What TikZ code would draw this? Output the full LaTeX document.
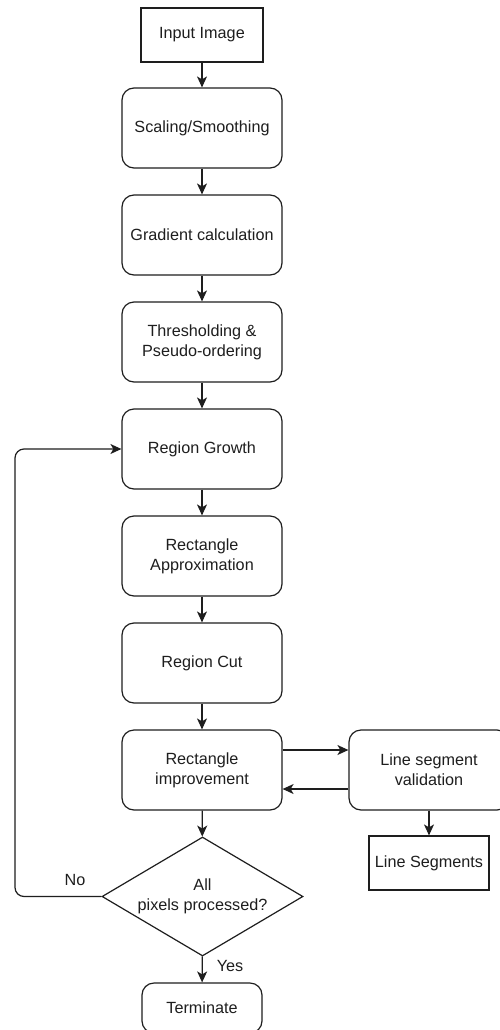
\documentclass[tikz,border=0pt]{standalone}
\usepackage{fontspec}
\setmainfont{Liberation Sans}
\usetikzlibrary{arrows.meta,shapes.geometric}
\definecolor{ink}{HTML}{1E1E1E}
\begin{document}
\begin{tikzpicture}[x=1bp,y=-1bp,
  line width=1.2bp, draw=ink, text=ink,
  font=\fontsize{16.2bp}{20bp}\selectfont,
  plainbox/.style={draw, rectangle, minimum width=122bp, minimum height=54bp, inner sep=0pt, align=center},
  roundbox/.style={draw, rectangle, rounded corners=12bp, minimum width=160bp, minimum height=80bp, inner sep=0pt, align=center},
  decision/.style={draw, diamond, aspect=1.69, minimum width=201bp, minimum height=119bp, inner sep=0pt, align=center},
  flow/.style={-{Stealth[length=11bp,width=10bp,inset=3bp]}},
  tag/.style={inner sep=0pt}]
\path[use as bounding box, clip] (0,0) rectangle (500,1030);
\fill[white] (0,0) rectangle (500,1030);

% main pipeline
\node[plainbox] (input) at (202,35) {Input Image};
\node[roundbox] (scale) at (202,128) {Scaling/Smoothing};
\node[roundbox] (grad) at (202,235) {Gradient calculation};
\node[roundbox] (thresh) at (202,342) {Thresholding \&\\Pseudo-ordering};
\node[roundbox] (grow) at (202,449) {Region Growth};
\node[roundbox] (approx) at (202,556) {Rectangle\\Approximation};
\node[roundbox] (cut) at (202,663) {Region Cut};
\node[roundbox] (improve) at (202,770) {Rectangle\\improvement};
\node[decision] (done) at (202.5,896.5) {All\\pixels processed?};
\node[roundbox, minimum width=120bp, minimum height=50bp] (term) at (202,1008) {Terminate};

% validation branch
\node[roundbox] (valid) at (429,770) {Line segment\\validation};
\node[plainbox, minimum width=120bp] (segs) at (429,863) {Line Segments};

% connectors
\draw[flow] (input) -- (scale);
\draw[flow] (scale) -- (grad);
\draw[flow] (grad) -- (thresh);
\draw[flow] (thresh) -- (grow);
\draw[flow] (grow) -- (approx);
\draw[flow] (approx) -- (cut);
\draw[flow] (cut) -- (improve);
\draw[flow] (improve) -- (done);
\draw[flow] (done) -- (term);
\draw[flow] ([yshift=20bp]improve.east) -- ([yshift=20bp]valid.west);
\draw[flow] ([yshift=-19bp]valid.west) -- ([yshift=-19bp]improve.east);
\draw[flow] (valid) -- (segs);
\draw[flow, rounded corners=9bp] (done.west) -- (15,896.5) -- (15,449) -- (grow.west);

% branch labels
\node[tag] (nolbl) at (75,880) {No};
\node[tag] (yeslbl) at (230,966) {Yes};
\end{tikzpicture}
\end{document}
